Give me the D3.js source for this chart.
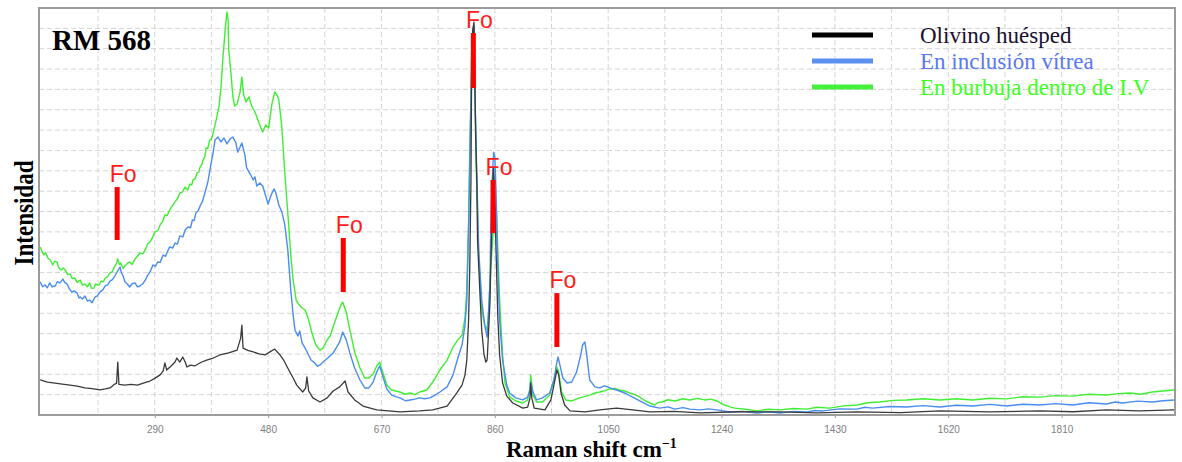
<!DOCTYPE html>
<html>
<head>
<meta charset="utf-8">
<script src="https://cdn.jsdelivr.net/npm/d3@7"></script>
<style>
  html, body { margin: 0; padding: 0; background: #fff; }
  svg { display: block; }
</style>
</head>
<body>
<svg id="chart" width="1182" height="462"></svg>
<script>
// ---------------- DATA ----------------
const ramanTicks = [290, 480, 670, 860, 1050, 1240, 1430, 1620, 1810];

const seriesNames = ["Olivino huésped", "En inclusión vítrea", "En burbuja dentro de I.V"];

// [Raman shift (cm-1), intensity (arb. units)]
const hostOlivine = [
  [98,1.72],[110,1.62],[123,1.57],[135,1.52],[148,1.47],[160,1.42],[173,1.33],[185,1.30],[198,1.23],[207,1.28],[215,1.33],[223,1.52],[226,1.55],[228,2.60],[230,1.50],
  [240,1.47],[250,1.50],[261,1.47],[272,1.58],[282,1.67],[290,1.80],[299,1.97],[304,2.16],[307,2.56],[310,2.21],[317,2.40],[324,2.60],[327,2.80],[332,2.60],
  [337,2.85],[341,2.60],[344,2.36],[350,2.45],[357,2.41],[367,2.58],[377,2.70],[388,2.80],[399,2.95],[414,3.05],[428,3.19],[434,3.78],[436,4.42],[438,3.29],
  [446,3.18],[455,3.10],[465,3.00],[475,2.95],[483,3.10],[491,3.24],[500,2.95],[506,2.70],[512,2.36],[522,1.82],[528,1.47],[538,1.13],[543,1.33],
  [545,1.87],[548,1.18],[555,0.84],[567,0.64],[579,0.84],[589,1.18],[600,1.38],[609,1.67],[614,1.13],[625,0.74],
  [639,0.44],[662,0.25],[701,0.15],[734,0.20],[756,0.25],[780,0.44],[796,1.08],[805,1.47],[810,1.97],[813,2.70],
  [816,4.67],[818,7.27],[820,11.55],[821,16.46],[823,18.92],[825,19.31],[826,17.44],[828,13.51],[830,11.20],[831,8.60],
  [835,6.00],[838,4.18],[842,2.95],[845,2.60],[847,2.70],[848,3.19],[852,5.65],[853,7.13],[855,9.09],[857,11.79],
  [858,12.14],[860,10.57],[862,8.11],[865,4.82],[868,2.95],[873,1.57],[880,0.93],[890,0.59],[907,0.34],[915,0.39],
  [919,0.84],[920,1.57],[922,0.84],[926,0.34],[944,0.25],[954,0.74],[959,1.47],[964,2.21],[967,1.97],[971,1.08],
  [977,0.49],[986,0.20],[1011,0.15],[1036,0.25],[1064,0.34],[1091,0.25],[1120,0.15],[1160,0.18],[1204,0.10],[1270,0.16],[1338,0.15],[1400,0.10],[1467,0.15],
  [1540,0.12],[1606,0.20],[1690,0.15],[1773,0.20],[1830,0.16],[1885,0.25],[1940,0.20],[1999,0.25]
];

const glassInclusion = [
  [98,6.54],[102,6.30],[106,6.39],[110,6.25],[114,6.49],[118,6.30],[123,6.34],[127,6.55],[131,6.49],[136,6.68],
  [139,6.52],[143,6.44],[147,6.20],[151,6.04],[155,6.10],[160,5.99],[163,5.75],[165,5.80],[169,5.70],[173,5.85],
  [177,5.60],[181,5.65],[185,5.52],[190,5.80],[194,5.85],[198,6.04],[203,6.15],[207,6.34],[211,6.40],[215,6.58],
  [219,6.65],[223,6.83],[228,7.08],[232,7.27],[234,7.00],[237,6.83],[240,6.55],[244,6.44],[248,6.29],[252,6.45],
  [257,6.49],[261,6.30],[265,6.34],[270,6.45],[274,6.63],[278,6.85],[282,7.03],[287,7.37],[291,7.30],[295,7.52],
  [299,7.50],[304,7.86],[308,7.80],[311,8.01],[315,8.26],[320,8.20],[324,8.45],[328,8.40],[332,8.80],[337,8.75],
  [341,9.09],[346,9.24],[350,9.20],[353,9.58],[356,9.55],[359,9.93],[363,10.05],[366,10.27],[370,10.50],[374,10.91],
  [379,11.45],[384,12.29],[388,12.92],[391,13.51],[396,13.66],[401,13.42],[406,13.61],[411,13.32],[416,13.56],[421,13.66],
  [426,13.37],[429,12.92],[433,13.17],[436,13.37],[441,12.78],[444,12.14],[447,12.00],[450,11.84],[455,11.55],[458,11.70],
  [461,11.25],[466,11.40],[471,11.25],[476,10.76],[480,10.37],[485,10.81],[490,11.11],[493,10.91],[498,10.32],[503,9.98],
  [508,9.34],[513,8.11],[518,6.14],[522,4.91],[525,4.18],[530,3.88],[533,4.13],[537,3.54],[542,3.29],[547,3.00],
  [552,2.70],[558,2.56],[563,2.40],[567,2.46],[574,2.65],[580,2.80],[589,3.05],[595,3.34],[600,3.59],[605,4.08],
  [611,3.69],[617,3.05],[625,2.31],[634,1.72],[642,1.33],[649,1.33],[656,1.62],[662,2.11],[667,2.41],[672,1.92],
  [679,1.28],[687,0.98],[694,0.90],[701,0.84],[710,0.70],[718,0.74],[726,0.78],[734,0.84],[742,0.80],[751,0.84],
  [760,0.98],[768,1.13],[780,1.38],[790,1.97],[798,2.80],[805,3.44],[810,4.42],[813,5.65],[816,9.09],
  [818,12.53],[820,15.48],[821,17.44],[823,18.82],[825,19.12],[826,16.95],[828,14.00],[830,11.55],[833,8.11],[838,5.65],
  [843,4.42],[847,3.83],[848,4.18],[852,6.63],[853,8.94],[855,11.06],[857,12.38],[858,12.92],[860,12.68],[862,11.06],
  [865,7.27],[868,4.67],[873,2.70],[880,1.47],[885,1.08],[895,0.84],[907,0.74],[915,0.88],[919,1.23],[920,1.62],
  [924,1.13],[930,0.74],[940,0.84],[952,1.08],[959,1.72],[964,2.60],[966,2.85],[969,2.46],[974,1.82],[981,1.57],
  [989,1.62],[997,2.11],[1004,2.95],[1007,3.44],[1011,3.59],[1014,2.95],[1019,1.72],[1028,1.38],[1036,1.33],[1044,1.43],
  [1053,1.33],[1064,1.23],[1078,1.08],[1091,0.88],[1103,0.69],[1120,0.44],[1136,0.34],[1150,0.40],[1162,0.29],[1175,0.36],
  [1187,0.29],[1204,0.25],[1218,0.30],[1232,0.25],[1254,0.15],[1276,0.18],[1299,0.10],[1318,0.16],[1338,0.10],[1360,0.18],
  [1383,0.15],[1396,0.22],[1410,0.20],[1438,0.30],[1467,0.29],[1480,0.38],[1493,0.34],[1522,0.42],[1550,0.39],[1578,0.46],
  [1606,0.39],[1633,0.48],[1661,0.44],[1690,0.52],[1718,0.44],[1745,0.53],[1773,0.49],[1800,0.56],[1828,0.49],[1856,0.60],
  [1885,0.54],[1900,0.64],[1912,0.59],[1937,0.68],[1962,0.64],[1980,0.70],[1999,0.74]
];

const bubble = [
  [98,8.26],[101,8.05],[104,7.86],[107,7.98],[111,7.71],[115,7.62],[119,7.37],[122,7.55],[126,7.52],[129,7.25],
  [133,7.13],[137,7.22],[141,7.08],[144,6.90],[148,6.93],[152,6.70],[156,6.73],[160,6.52],[165,6.63],[169,6.38],
  [173,6.44],[177,6.30],[181,6.49],[184,6.22],[188,6.24],[191,6.45],[193,6.39],[197,6.40],[200,6.58],[204,6.55],
  [207,6.73],[211,6.80],[215,6.98],[219,7.05],[223,7.32],[226,7.45],[228,7.67],[231,7.40],[233,7.47],[237,7.20],
  [240,7.32],[244,7.45],[248,7.52],[252,7.40],[257,7.67],[261,7.80],[265,7.96],[270,7.92],[274,8.11],[278,8.40],
  [282,8.50],[286,8.70],[290,8.99],[295,9.05],[299,9.34],[303,9.50],[307,9.83],[311,9.80],[315,10.07],[320,10.30],
  [324,10.47],[328,10.62],[332,10.91],[336,10.95],[341,11.20],[345,11.05],[349,11.35],[352,11.30],[354,11.55],[358,11.62],
  [361,11.89],[364,11.95],[366,12.19],[369,12.30],[371,12.53],[374,12.70],[376,13.12],[379,13.10],[382,13.51],[385,13.55],
  [388,13.86],[393,14.50],[398,15.23],[401,16.07],[404,17.44],[408,18.92],[411,19.80],[413,19.41],[414,17.94],[418,16.71],
  [421,15.63],[424,15.18],[428,15.28],[433,15.87],[436,16.61],[439,15.72],[443,15.38],[448,15.63],[453,15.14],[458,14.89],
  [463,14.50],[468,14.10],[471,13.91],[476,14.25],[481,14.10],[486,15.23],[491,15.87],[495,15.72],[498,15.48],[503,14.15],
  [508,11.89],[513,9.93],[518,7.86],[522,6.63],[527,5.65],[532,5.41],[537,5.26],[542,5.16],[547,4.77],[553,4.08],
  [560,3.44],[567,3.19],[572,3.29],[579,3.69],[584,3.88],[590,4.42],[597,5.01],[602,5.41],[605,5.55],[611,5.06],
  [617,4.18],[625,3.10],[634,2.31],[642,1.82],[649,1.82],[656,2.01],[662,2.41],[667,2.60],[672,2.11],[679,1.47],
  [687,1.23],[694,1.18],[701,1.13],[710,1.02],[718,1.08],[726,1.00],[734,1.13],[746,1.23],[756,1.62],[768,2.21],
  [780,2.70],[790,3.34],[798,3.69],[805,3.93],[810,4.77],[813,6.14],[816,9.58],[818,13.02],[820,15.72],[821,17.69],
  [823,18.92],[825,19.16],[826,16.95],[828,13.51],[830,10.81],[833,7.62],[838,5.16],[843,4.42],[847,4.18],[850,5.16],
  [853,7.13],[857,8.85],[860,10.07],[862,10.32],[863,9.83],[865,8.11],[868,5.65],[873,2.95],[877,1.57],[885,0.88],
  [895,0.69],[907,0.59],[915,0.74],[919,1.33],[920,1.97],[924,0.98],[930,0.64],[940,0.64],[952,0.98],[959,1.72],
  [964,2.36],[967,2.11],[972,1.13],[979,0.74],[989,0.69],[1002,0.84],[1010,0.90],[1019,0.98],[1028,1.08],[1036,1.13],
  [1045,1.20],[1053,1.28],[1061,1.30],[1069,1.23],[1078,1.18],[1086,1.08],[1095,1.00],[1103,0.88],[1112,0.70],[1120,0.59],
  [1128,0.49],[1134,0.62],[1140,0.64],[1150,0.75],[1162,0.69],[1175,0.80],[1187,0.74],[1200,0.82],[1212,0.74],[1222,0.78],
  [1232,0.69],[1245,0.49],[1254,0.40],[1262,0.34],[1280,0.28],[1299,0.20],[1318,0.28],[1338,0.25],[1360,0.32],[1383,0.29],
  [1400,0.38],[1421,0.34],[1445,0.45],[1467,0.49],[1485,0.60],[1505,0.64],[1528,0.72],[1550,0.74],[1578,0.80],[1606,0.74],
  [1633,0.80],[1661,0.74],[1690,0.82],[1718,0.79],[1745,0.90],[1773,0.88],[1800,0.95],[1828,0.93],[1856,1.02],[1885,0.98],
  [1905,1.05],[1924,1.08],[1943,1.02],[1962,1.13],[1980,1.18],[1999,1.23]
];

// Forsterite (Fo) marker annotations
const foShift  = [227, 606, 824, 857, 964];
const foTop    = [11.20, 8.70, 18.77, 11.55, 5.99];
const foBottom = [8.60, 6.04, 16.07, 8.94, 3.34];
const foLabel  = "Fo";

// ---------------- DRAW ----------------
(function () {
const svg = d3.select("#chart");
const W = 1182, H = 462;
const pL = 39, pR = 1175, pT = 8, pB = 415;

const x = d3.scaleLinear().domain([96, 2000]).range([pL, pR]);
const y = d3.scaleLinear().domain([0, 20]).range([pB, pT]);

svg.append("rect").attr("width", W).attr("height", H).attr("fill", "#fff");

// grid
const gridStep = (ramanTicks[1] - ramanTicks[0]) / 2;
const vGrid = d3.range(ramanTicks[0] - gridStep, 2000, gridStep).filter(v => v > 96 && v < 2000);
svg.append("g").selectAll("line").data(vGrid).join("line")
  .attr("x1", d => x(d)).attr("x2", d => x(d))
  .attr("y1", pT).attr("y2", pB)
  .attr("stroke", "#d4d4d4").attr("stroke-width", 1).attr("stroke-dasharray", "5,3");
const hGrid = d3.range(1, 20, 1);
svg.append("g").selectAll("line").data(hGrid).join("line")
  .attr("x1", pL).attr("x2", pR)
  .attr("y1", d => y(d)).attr("y2", d => y(d))
  .attr("stroke", "#d4d4d4").attr("stroke-width", 1).attr("stroke-dasharray", "5,3");

// clip
svg.append("defs").append("clipPath").attr("id", "clip")
  .append("rect").attr("x", pL).attr("y", pT).attr("width", pR - pL).attr("height", pB - pT);

const line = d3.line().x(d => x(d[0])).y(d => y(d[1]));
const plot = svg.append("g").attr("clip-path", "url(#clip)");
plot.append("path").datum(bubble).attr("d", line)
  .attr("fill", "none").attr("stroke", "#3fee33").attr("stroke-width", 1.4).attr("stroke-linejoin", "round");
plot.append("path").datum(glassInclusion).attr("d", line)
  .attr("fill", "none").attr("stroke", "#4a8cf0").attr("stroke-width", 1.4).attr("stroke-linejoin", "round");
plot.append("path").datum(hostOlivine).attr("d", line)
  .attr("fill", "none").attr("stroke", "#3a3a3a").attr("stroke-width", 1.3).attr("stroke-linejoin", "round");

// frame
svg.append("rect").attr("x", pL).attr("y", pT).attr("width", pR - pL).attr("height", pB - pT)
  .attr("fill", "none").attr("stroke", "#9c9c9c").attr("stroke-width", 2);

// x axis
const xAxis = d3.axisBottom(x).tickValues(ramanTicks).tickSize(3).tickPadding(8).tickFormat(d3.format("d"));
const gx = svg.append("g").attr("transform", `translate(0,${pB})`).call(xAxis);
gx.select(".domain").remove();
gx.selectAll(".tick line").attr("stroke", "#9c9c9c");
gx.selectAll(".tick text").attr("fill", "#808080").attr("font-family", "Arial, 'Liberation Sans', sans-serif").attr("font-size", 10);

// Fo markers
const fo = svg.append("g");
fo.selectAll("rect").data(foShift).join("rect")
  .attr("x", d => x(d) - 2.5).attr("width", 5)
  .attr("y", (d, i) => y(foTop[i])).attr("height", (d, i) => y(foBottom[i]) - y(foTop[i]))
  .attr("fill", "#ff0000");
fo.selectAll("text").data(foShift).join("text")
  .attr("x", d => x(d) + 6).attr("y", (d, i) => y(foTop[i]) - 5)
  .attr("text-anchor", "middle")
  .attr("font-family", "Arial, 'Liberation Sans', sans-serif").attr("font-size", 23)
  .attr("fill", "#ff1a1a").text(foLabel);

// legend
const legColors = ["#000000", "#5b8ff0", "#44f03a"];
const legTextColors = ["#1a1030", "#5a78f0", "#3cff1e"];
const legY = [35, 61, 87];
const leg = svg.append("g");
seriesNames.forEach((n, i) => {
  leg.append("line").attr("x1", 812).attr("x2", 873).attr("y1", legY[i]).attr("y2", legY[i])
    .attr("stroke", legColors[i]).attr("stroke-width", 5);
  leg.append("text").attr("x", 920).attr("y", legY[i] + 7.5)
    .attr("font-family", "'Liberation Serif', 'Times New Roman', serif").attr("font-size", 23)
    .attr("fill", legTextColors[i]).text(n);
});

// title
svg.append("text").attr("x", 52).attr("y", 50)
  .attr("font-family", "'Liberation Serif', 'Times New Roman', serif").attr("font-weight", "bold")
  .attr("font-size", 29).attr("fill", "#000").text("RM 568");

// axis titles
svg.append("text").attr("transform", "translate(33,213) rotate(-90)")
  .attr("text-anchor", "middle")
  .attr("font-family", "'Liberation Serif', 'Times New Roman', serif").attr("font-weight", "bold")
  .attr("font-size", 28).attr("textLength", 105).attr("lengthAdjust", "spacingAndGlyphs")
  .attr("fill", "#000").text("Intensidad");

const xt = svg.append("text").attr("x", 506).attr("y", 457)
  .attr("font-family", "'Liberation Serif', 'Times New Roman', serif").attr("font-weight", "bold")
  .attr("font-size", 23).attr("fill", "#000");
xt.append("tspan").text("Raman shift cm");
xt.append("tspan").attr("dy", -9).attr("font-size", 14).text("−1");
})();
</script>
</body>
</html>
